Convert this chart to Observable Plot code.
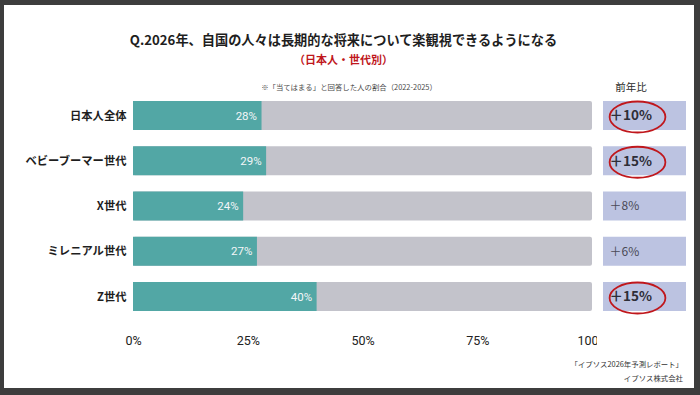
<!DOCTYPE html>
<html>
<head>
<meta charset="utf-8">
<script src="https://cdn.jsdelivr.net/npm/d3@7"></script>
<script src="https://cdn.jsdelivr.net/npm/@observablehq/plot@0.6"></script>
<style>
  html, body { margin: 0; padding: 0; }
  body { width: 700px; height: 395px; background: #3d3d3d; position: relative; overflow: hidden;
         font-family: "Noto Sans CJK JP", "Noto Sans", sans-serif; }
  .slide { position: absolute; left: 4px; top: 5px; width: 690px; height: 383px; background: #fff; }
  .abs { position: absolute; white-space: nowrap; }
  #title { left: 0; width: 687px; top: 31px; text-align: center; font-size: 13.2px; font-weight: 700; color: #1e1e1e; line-height: 18px; }
  #subtitle { left: 0; width: 687px; top: 51px; text-align: center; font-size: 11px; font-weight: 700; color: #c0171c; line-height: 16px; }
  #note { left: 0; width: 698px; top: 81px; text-align: center; font-size: 7.4px; color: #4a4a4a; line-height: 12px; }
  #yoyhead { left: 591px; width: 80px; top: 80px; text-align: center; font-size: 10.5px; color: #2a2a2a; line-height: 14px; }
  #caption { right: 17px; top: 357px; text-align: right; font-size: 7.4px; color: #333; line-height: 14px; }
  #main, #side { position: absolute; }
  #main { left: 0; top: 0; }
  #side { left: 597px; top: 5px; }
</style>
</head>
<body>
<div class="slide"></div>
<div id="main"></div>
<div id="side"></div>
<div class="abs" id="title">Q.2026年、自国の人々は長期的な将来について楽観視できるようになる</div>
<div class="abs" id="subtitle">（日本人・世代別）</div>
<div class="abs" id="note">※「当てはまる」と回答した人の割合（2022-2025）</div>
<div class="abs" id="yoyhead">前年比</div>
<div class="abs" id="caption">「イプソス2026年予測レポート」<br>イプソス株式会社</div>
<script>
// ---- data ----
const categories = ["日本人全体", "ベビーブーマー世代", "X世代", "ミレニアル世代", "Z世代"];
const shares = [28, 29, 24, 27, 40];
const yoyLabels = ["＋10%", "＋15%", "＋8%", "＋6%", "＋15%"];
const yoyHighlighted = [true, true, false, false, true];
const xTicks = [0, 25, 50, 75, 100];

const rows = categories.map((c, i) => ({cat: categories[i], value: shares[i], yoy: yoyLabels[i], hi: yoyHighlighted[i]}));

const yBand = {domain: categories, padding: 0.359, round: false};

const main = Plot.plot({
  width: 700,
  height: 395,
  marginLeft: 133,
  marginRight: 108,
  marginTop: 84.75,
  marginBottom: 67.75,
  style: {background: "transparent", fontFamily: "\"Noto Sans CJK JP\", sans-serif"},
  x: {domain: [0, 100], round: false},
  y: yBand,
  marks: [
    Plot.cell(rows, {y: "cat", fill: "#c3c3cb", rx: 2}),
    Plot.barX(rows, {x: "value", y: "cat", fill: "#52a7a5"}),
    Plot.text(rows, {x: "value", y: "cat", text: d => d.value + "%", textAnchor: "end", dx: -5,
      fill: "#f4f6f8", fontSize: 11.5, fontFamily: "Roboto, sans-serif"}),
    Plot.axisY({tickSize: 0, tickPadding: 7, fontSize: 11.3, fontWeight: "bold", fill: "#1e1e1e",
      fontFamily: "\"Noto Sans CJK JP\", sans-serif", label: null}),
    Plot.axisX({ticks: xTicks, tickFormat: d => d + "%", tickSize: 0, tickPadding: 8, fontSize: 12.5,
      fill: "#222", fontFamily: "Roboto, sans-serif", label: null})
  ]
});
document.getElementById("main").appendChild(main);

// ellipse symbol for highlighted year-over-year values
const ellipse = {
  draw(context, size) {
    const r = Math.sqrt(size / Math.PI);
    const rx = r * 1.8, ry = r, k = 0.5523;
    context.moveTo(rx, 0);
    context.bezierCurveTo(rx, ry * k, rx * k, ry, 0, ry);
    context.bezierCurveTo(-rx * k, ry, -rx, ry * k, -rx, 0);
    context.bezierCurveTo(-rx, -ry * k, -rx * k, -ry, 0, -ry);
    context.bezierCurveTo(rx * k, -ry, rx, -ry * k, rx, 0);
    context.closePath();
  }
};

const side = Plot.plot({
  width: 93,
  height: 383,
  marginLeft: 6,
  marginRight: 4,
  marginTop: 79.75,
  marginBottom: 60.75,
  style: {background: "#ffffff", fontFamily: "\"Noto Sans CJK JP\", sans-serif"},
  y: {...yBand, axis: null},
  marks: [
    Plot.cell(rows, {y: "cat", fill: "#bcc3e1"}),
    Plot.text(rows.filter(d => d.hi), {y: "cat", text: "yoy", frameAnchor: "left", textAnchor: "start", dx: 6,
      fontSize: 13.5, fontWeight: "bold", fill: "#2e2e38"}),
    Plot.text(rows.filter(d => !d.hi), {y: "cat", text: "yoy", frameAnchor: "left", textAnchor: "start", dx: 6,
      fontSize: 12, fill: "#4a4a55"}),
    Plot.dot(rows.filter(d => d.hi), {y: "cat", frameAnchor: "left", dx: 34, dy: 1, r: 15.5, symbol: ellipse,
      stroke: "#c0171c", strokeWidth: 1.8, fill: "none"})
  ]
});
document.getElementById("side").appendChild(side);
</script>
</body>
</html>
